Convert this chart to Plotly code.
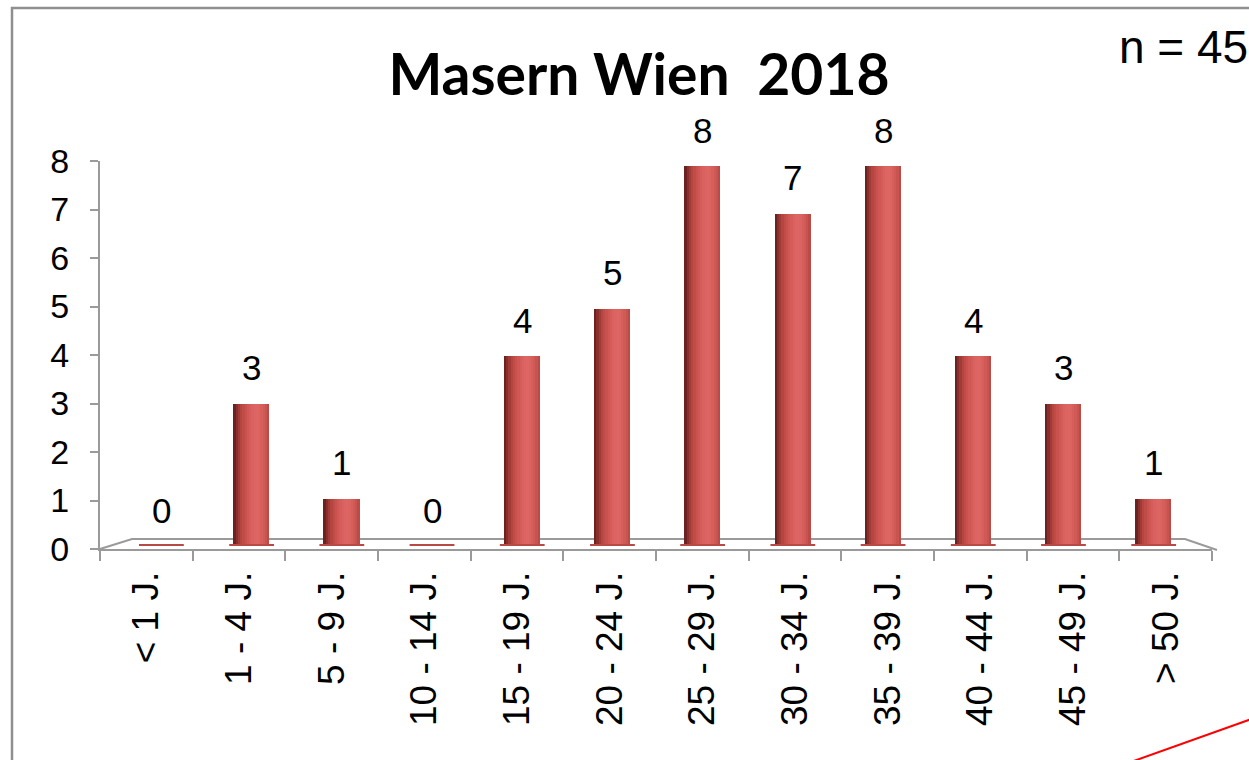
import plotly.graph_objects as go

# ---- data ----
categories = ["< 1 J.", "1 - 4 J.", "5 - 9 J.", "10 - 14 J.", "15 - 19 J.", "20 - 24 J.",
              "25 - 29 J.", "30 - 34 J.", "35 - 39 J.", "40 - 44 J.", "45 - 49 J.", "> 50 J."]
cases = [0, 3, 1, 0, 4, 5, 8, 7, 8, 4, 3, 1]
y_ticks = [0, 1, 2, 3, 4, 5, 6, 7, 8]
title_text = "Masern Wien  2018"
n_text = "n = 45"

# ---- layout helpers (pixel -> paper) ----
W, H = 1249, 760
def px(x):
    return x / W
def py(y):
    return 1 - y / H

AXIS_GREY = "#9a9a9a"
strip_colors = ["#6b2220", "#8a2f2c", "#a13b37", "#b4453f", "#c04c48", "#c9524e",
                "#d05753", "#d55c58", "#d96160", "#dc6563", "#dd6663", "#db6461",
                "#d75f5b", "#d05a56", "#c85450", "#bc4b47"]
bar_width = 0.40

fig = go.Figure()

# invisible trace to establish the category axis for the visible x axis
fig.add_trace(go.Bar(x=categories, y=cases, xaxis="x", yaxis="y",
                     marker=dict(opacity=0), hoverinfo="skip", showlegend=False))

# cylinder-like bars built from vertical strips (perspective axis x2/y2)
n_strips = len(strip_colors)
sw = bar_width / n_strips
for k, col in enumerate(strip_colors):
    fig.add_trace(go.Bar(
        x=categories, y=cases, xaxis="x2", yaxis="y2",
        offset=-bar_width / 2 + k * sw, width=sw * 1.5 if k < n_strips - 1 else sw,
        marker=dict(color=col, line=dict(width=0)),
        showlegend=False, hoverinfo="skip"))

# base ellipse for each bar (visible for zero values)
fig.add_trace(go.Scatter(
    x=categories, y=[0] * len(categories), xaxis="x2", yaxis="y2", mode="markers",
    marker=dict(symbol="line-ew", size=32, line=dict(width=4, color="#b84a46")),
    showlegend=False, hoverinfo="skip"))

annotations = []
for c, v in zip(categories, cases):
    annotations.append(dict(x=c, y=v, xref="x2", yref="y2", text=str(v), showarrow=False,
                            yshift=36, font=dict(family="Liberation Sans", size=35, color="black")))

annotations.append(dict(x=px(1117), y=py(47), xref="paper", yref="paper", text=n_text,
                        showarrow=False, xanchor="left", yanchor="middle",
                        font=dict(family="Liberation Sans", size=46, color="black")))

shapes = [
    # outer frame
    dict(type="rect", xref="paper", yref="paper", x0=px(12), y0=py(8), x1=px(1300), y1=py(820),
         line=dict(color="#8f8f8f", width=2.5), layer="below"),
    # 3D floor outline
    dict(type="path", xref="paper", yref="paper",
         path=f"M {px(100)} {py(549)} L {px(132)} {py(539)} L {px(1185)} {py(539)} L {px(1217)} {py(550)}",
         line=dict(color=AXIS_GREY, width=2), layer="below"),
    # red line bottom right
    dict(type="line", xref="paper", yref="paper", x0=px(1100), y0=py(773), x1=px(1260), y1=py(716),
         line=dict(color="red", width=2)),
]

fig.update_layout(
    width=W, height=H,
    margin=dict(l=0, r=0, t=0, b=0),
    paper_bgcolor="white", plot_bgcolor="rgba(0,0,0,0)",
    barmode="overlay", bargap=0,
    title=dict(text=title_text, x=px(639), y=py(75), xanchor="center", yanchor="middle",
               xref="paper", yref="paper",
               font=dict(family="Lato", size=57, color="black", weight="bold")),
    xaxis=dict(domain=[px(100), px(1212)], anchor="y", type="category",
               categoryorder="array", categoryarray=categories, range=[-0.5, 11.5],
               tickson="boundaries", ticks="outside", ticklen=10, tickwidth=2, tickcolor=AXIS_GREY,
               showline=True, linecolor=AXIS_GREY, linewidth=2, showgrid=False,
               tickangle=-90, automargin=False, ticklabelstandoff=6,
               tickfont=dict(family="Liberation Sans", size=37, color="black"), fixedrange=True),
    yaxis=dict(domain=[py(549), py(161)], anchor="x", range=[0, 8],
               tickmode="array", tickvals=y_ticks, ticktext=[str(t) for t in y_ticks],
               ticks="outside", ticklen=8, tickwidth=2, tickcolor=AXIS_GREY,
               showline=True, linecolor=AXIS_GREY, linewidth=2, showgrid=False, zeroline=False,
               automargin=False, ticklabelstandoff=14,
               tickfont=dict(family="Liberation Sans", size=34, color="black"), fixedrange=True),
    xaxis2=dict(domain=[px(116.3), px(1198.8)], anchor="y2", type="category",
                categoryorder="array", categoryarray=categories, range=[-0.5, 11.5],
                visible=False, fixedrange=True),
    yaxis2=dict(domain=[py(546), py(166)], anchor="x2", range=[0, 8],
                visible=False, fixedrange=True),
    annotations=annotations,
    shapes=shapes,
)

fig.write_html("out.html", config={"displayModeBar": False},
               post_script="document.body.style.margin='0';document.body.style.overflow='hidden';")
